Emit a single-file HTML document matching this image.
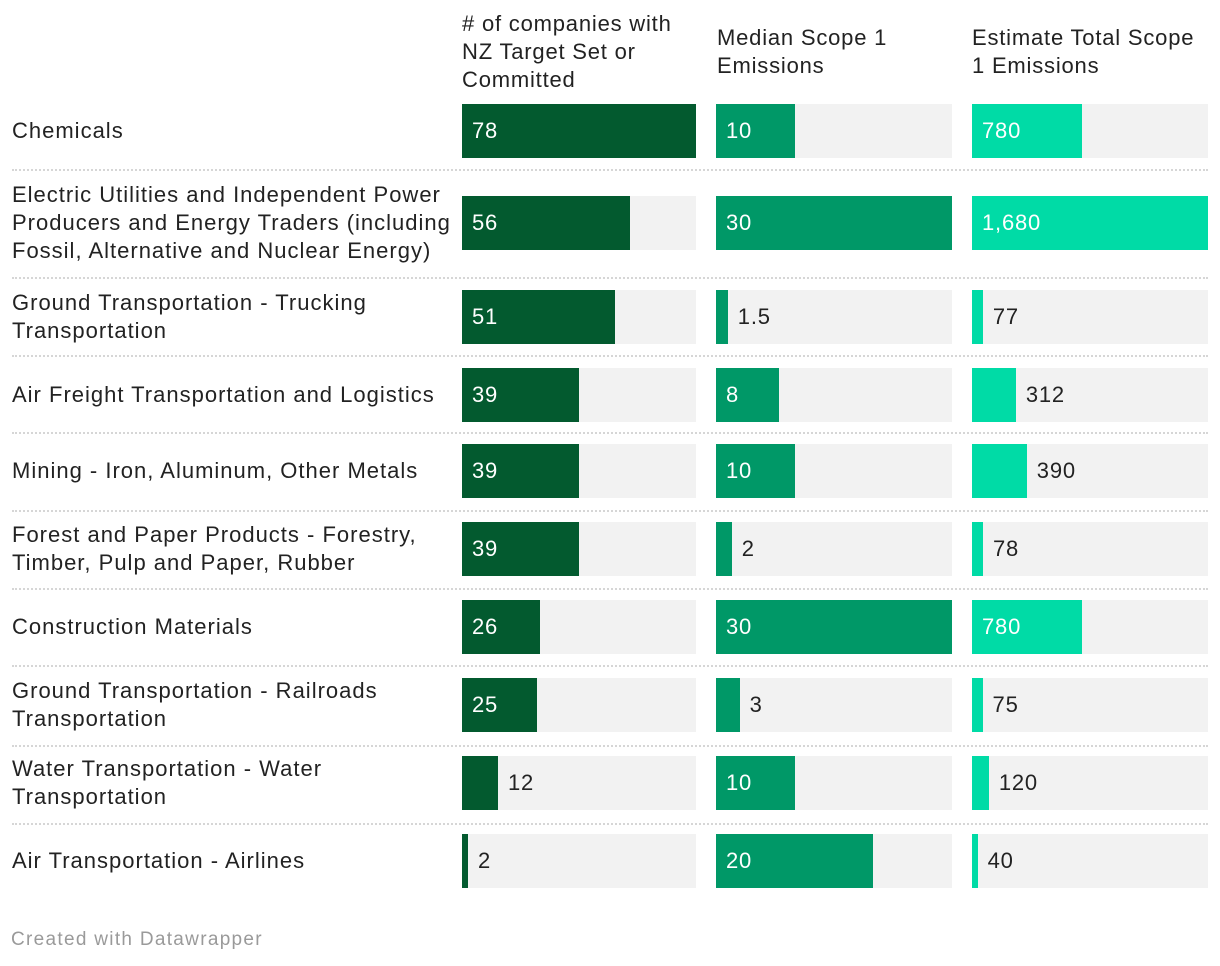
<!DOCTYPE html>
<html><head><meta charset="utf-8"><style>
body{margin:0;width:1220px;height:966px;background:#fff;font-family:"Liberation Sans",sans-serif;position:relative;overflow:hidden}
.a{position:absolute}
.hdr{font-size:22px;color:#222;line-height:28px;letter-spacing:0.8px}
.lbl{font-size:22px;color:#222;line-height:28px;left:12px;width:445px;display:flex;align-items:center;letter-spacing:1.0px}
.sep{left:12px;width:1196px;height:0;border-top:2px dotted #d6d6d6}
.bg{background:#f2f2f2}
.val{font-size:22px;line-height:54px;height:54px;letter-spacing:0.8px}
</style></head><body>
<div class="a hdr" style="left:462px;top:10px;width:232px"># of companies with NZ Target Set or Committed</div>
<div class="a hdr" style="left:717px;top:24px;width:225px">Median Scope 1 Emissions</div>
<div class="a hdr" style="left:972px;top:24px;width:240px">Estimate Total Scope 1 Emissions</div>
<div id="chart"></div>
<div class="a" style="left:11px;top:929px;font-size:19px;color:#9a9a9a;letter-spacing:1.3px">Created with Datawrapper</div>
<script>
const categories=["Chemicals","Electric Utilities and Independent Power Producers and Energy Traders (including Fossil, Alternative and Nuclear Energy)","Ground Transportation - Trucking Transportation","Air Freight Transportation and Logistics","Mining - Iron, Aluminum, Other Metals","Forest and Paper Products - Forestry, Timber, Pulp and Paper, Rubber","Construction Materials","Ground Transportation - Railroads Transportation","Water Transportation - Water Transportation","Air Transportation - Airlines"];
const companies=[78,56,51,39,39,39,26,25,12,2];
const medianScope1=[10,30,1.5,8,10,2,30,3,10,20];
const totalScope1=[780,1680,77,312,390,78,780,75,120,40];
const totalLabels=["780","1,680","77","312","390","78","780","75","120","40"];
const rowTops=[104,196,290,368,444,522,600,678,756,834];
const seps=[169,277,355,432,510,588,665,745,823];
const cols=[
 {x:462,w:234,max:78,data:companies,labels:companies.map(String),color:"#035a2f",name:"companies"},
 {x:716,w:236,max:30,data:medianScope1,labels:medianScope1.map(String),color:"#009867",name:"median"},
 {x:972,w:236,max:1680,data:totalScope1,labels:totalLabels,color:"#00dba6",name:"total"}];
const c=document.getElementById('chart');
function add(cls,style,txt){const d=document.createElement('div');d.className='a '+cls;d.setAttribute('style',style);if(txt!=null)d.textContent=txt;c.appendChild(d);return d;}
const cv=document.createElement('canvas').getContext('2d');cv.font='22px "Liberation Sans"';
seps.forEach(y=>{const s=add('sep','top:'+y+'px');

});
categories.forEach((cat,i)=>{
 const top=rowTops[i];
 const l=add('lbl','top:'+(top-10)+'px;height:74px',cat);
 
 
 cols.forEach(col=>{
  const bg=add('bg','left:'+col.x+'px;top:'+top+'px;width:'+col.w+'px;height:54px');
  
  
  const w=Math.max(2,col.data[i]/col.max*col.w);
  const b=add('','left:'+col.x+'px;top:'+top+'px;width:'+w+'px;height:54px;background:'+col.color);
  
  
  const t=col.labels[i];const tw=cv.measureText(t).width;
  let v;
  if(w>tw+20) v=add('val','left:'+(col.x+10)+'px;top:'+top+'px;color:#fff',t);
  else v=add('val','left:'+(col.x+w+10)+'px;top:'+top+'px;color:#222',t);
  
  
 });
});
</script>
</body></html>
